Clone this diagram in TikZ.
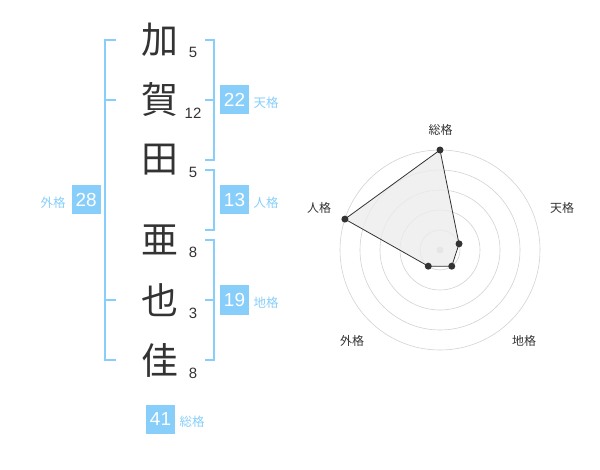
\documentclass[tikz,border=0pt]{standalone}
\usepackage{fontspec}
\usetikzlibrary{calc}
\setmainfont{Liberation Sans}
\newfontfamily\jp{Noto Sans CJK JP}
\definecolor{sky}{RGB}{135,206,250}
\definecolor{ink}{RGB}{51,51,51}
\definecolor{ringc}{RGB}{210,210,210}
\begin{document}
\begin{tikzpicture}[x=1bp,y=-1bp,
  kanji/.style={font=\jp\fontsize{37}{37}\selectfont, text=ink, inner sep=0pt},
  strokes/.style={font=\fontsize{15}{15}\selectfont, text=ink, inner sep=0pt},
  bracket/.style={draw=sky, line width=2bp},
  scorebox/.style={fill=sky, text=white, minimum width=29bp, minimum height=29bp, inner sep=0pt, font=\fontsize{19}{19}\selectfont},
  kakulabel/.style={text=sky, inner sep=0pt, font=\jp\fontsize{12.5}{12.5}\selectfont},
  axislabel/.style={text=ink, inner sep=0pt, font=\jp\fontsize{12}{12}\selectfont},
  ring/.style={draw=ringc, line width=0.6bp},
  dot/.style={circle, fill=ink, minimum size=7bp, inner sep=0pt}
]
\useasboundingbox (0,0) rectangle (600,470);
% kanji
\node[kanji] (k1) at (160,40) {加};
\node[kanji] (k2) at (160,100) {賀};
\node[kanji] (k3) at (160,160) {田};
\node[kanji] (k4) at (160,240) {亜};
\node[kanji] (k5) at (160,300) {也};
\node[kanji] (k6) at (160,360) {佳};
% stroke counts
\node[strokes] (s1) at (193,52) {5};
\node[strokes] (s2) at (193,113) {12};
\node[strokes] (s3) at (193,172) {5};
\node[strokes] (s4) at (193,252) {8};
\node[strokes] (s5) at (193,313) {3};
\node[strokes] (s6) at (193,373) {8};
% left bracket (gaikaku)
\draw[bracket] (116,40) -- (105,40) -- (105,360) -- (116,360);
\draw[bracket] (105,100) -- (116,100);
\draw[bracket] (105,300) -- (116,300);
\node[scorebox] (b28) at (86.2,200) {28};
\node[kakulabel] (l28) at (53,203) {外格};
% tenkaku
\draw[bracket] (205,40) -- (214,40) -- (214,160) -- (205,160);
\draw[bracket] (205,100) -- (214,100);
\node[scorebox] (b22) at (234.5,100) {22};
\node[kakulabel] (l22) at (266,103) {天格};
% jinkaku
\draw[bracket] (205,170) -- (214,170) -- (214,230) -- (205,230);
\node[scorebox] (b13) at (234.5,200) {13};
\node[kakulabel] (l13) at (266,203) {人格};
% chikaku
\draw[bracket] (205,240) -- (214,240) -- (214,360) -- (205,360);
\draw[bracket] (205,300) -- (214,300);
\node[scorebox] (b19) at (234.5,300) {19};
\node[kakulabel] (l19) at (266,303) {地格};
% sokaku
\node[scorebox] (b41) at (160.5,419) {41};
\node[kakulabel] (l41) at (192,422) {総格};
% radar
\coordinate (c) at (440,250);
\foreach \r in {20,40,60,80,100}
  \draw[ring] (c) circle[radius=\r bp];
\fill[ringc] (c) circle[radius=3.5bp];
\coordinate (p1) at ($(c)+(-90:100)$);
\coordinate (p2) at ($(c)+(-18:20)$);
\coordinate (p3) at ($(c)+(54:20)$);
\coordinate (p4) at ($(c)+(126:20)$);
\coordinate (p5) at ($(c)+(198:100)$);
\filldraw[fill=gray!15, fill opacity=0.8, draw=ink, line width=0.8bp] (p1) -- (p2) -- (p3) -- (p4) -- (p5) -- cycle;
\foreach \p in {p1,p2,p3,p4,p5}
  \node[dot] at (\p) {};
\node[axislabel] (a1) at (440.5,130) {総格};
\node[axislabel] (a2) at (562,208) {天格};
\node[axislabel] (a3) at (524,341) {地格};
\node[axislabel] (a4) at (352,341) {外格};
\node[axislabel] (a5) at (319,208) {人格};
\end{tikzpicture}
\end{document}
